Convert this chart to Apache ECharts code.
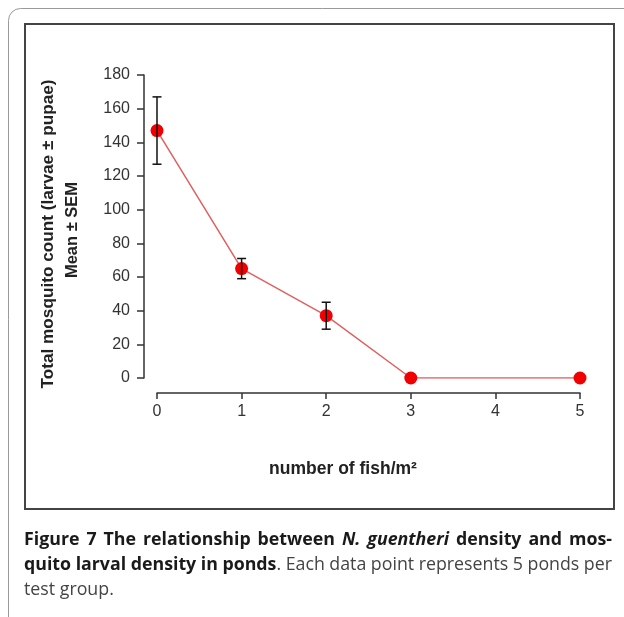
<!DOCTYPE html>
<html>
<head>
<meta charset="utf-8">
<script src="https://cdn.jsdelivr.net/npm/echarts@6/dist/echarts.min.js"></script>
<style>
html,body{margin:0;padding:0;background:#fff;}
#c{width:624px;height:617px;}
</style>
</head>
<body>
<div id="c"></div>
<script>
// Data
var fishDensity = [0, 1, 2, 3, 5];
var meanCount   = [147, 65, 37, 0, 0];
var semCount    = [20, 6, 8, 0, 0];
var yTicks = [0, 20, 40, 60, 80, 100, 120, 140, 160, 180];
var xTicks = [0, 1, 2, 3, 4, 5];

var lineData = fishDensity.map(function (x, i) { return [x, meanCount[i]]; });
var errData = fishDensity.map(function (x, i) {
  return [x, meanCount[i] - semCount[i], meanCount[i] + semCount[i]];
}).filter(function (d) { return d[2] > d[1]; });

// ---- caption (justified like the source figure) ----
var capFS = 17.8;
var capFont = {
  b:  {fontFamily: 'Open Sans', fontWeight: 'bold', fontStyle: 'normal', fontSize: capFS, fill: '#1a1a1a'},
  bi: {fontFamily: 'Open Sans', fontWeight: 'bold', fontStyle: 'italic', fontSize: capFS, fill: '#1a1a1a'},
  r:  {fontFamily: 'Open Sans', fontWeight: 'normal', fontStyle: 'normal', fontSize: capFS, fill: '#444'}
};
var captionLines = [
  {justify: true, words: [
    [['b','Figure']], [['b','7']], [['b','The']], [['b','relationship']], [['b','between']],
    [['bi','N.']], [['bi','guentheri']], [['b','density']], [['b','and']], [['b','mos-']]
  ]},
  {justify: true, words: [
    [['b','quito']], [['b','larval']], [['b','density']], [['b','in']], [['b','ponds'], ['r','.']],
    [['r','Each']], [['r','data']], [['r','point']], [['r','represents']], [['r','5']], [['r','ponds']], [['r','per']]
  ]},
  {justify: false, words: [[['r','test']], [['r','group.']]]}
];
var mctx = document.createElement('canvas').getContext('2d');
function segW(seg) {
  var f = capFont[seg[0]];
  mctx.font = f.fontStyle + ' ' + f.fontWeight + ' ' + f.fontSize + 'px "' + f.fontFamily + '"';
  return mctx.measureText(seg[1]).width;
}
mctx.font = 'normal normal ' + capFS + 'px "Open Sans"';
var spaceW = mctx.measureText(' ').width;
var capLeft = 24, capRight = 612, capY0 = 540, capLH = 25;
var captionGraphics = [];
captionLines.forEach(function (line, li) {
  var widths = line.words.map(function (w) {
    return w.reduce(function (s, seg) { return s + segW(seg); }, 0);
  });
  var total = widths.reduce(function (a, b) { return a + b; }, 0);
  var gap = line.justify ? (capRight - capLeft - total) / (line.words.length - 1) : spaceW;
  var x = capLeft;
  line.words.forEach(function (w, wi) {
    var txt = w.map(function (seg) { return '{' + seg[0] + '|' + seg[1] + '}'; }).join('');
    captionGraphics.push({
      type: 'text', x: x, y: capY0 + li * capLH, silent: true,
      style: {text: txt, verticalAlign: 'middle', align: 'left', rich: capFont}
    });
    x += widths[wi] + gap;
  });
});

var chart = echarts.init(document.getElementById('c'), null, {renderer: 'canvas'});

var capHalf = 4.5;
var axisFont = 'Liberation Sans, Arial, sans-serif';
var option = {
  animation: false,
  backgroundColor: '#fff',
  grid: {left: 157, right: 44, top: 75, bottom: 239, containLabel: false},
  xAxis: {
    type: 'value', min: 0, max: 5, interval: 1,
    offset: 15,
    axisLine: {show: true, onZero: false, lineStyle: {color: '#333', width: 1.5}},
    axisTick: {show: true, length: 6, lineStyle: {color: '#333', width: 1.5}},
    axisLabel: {margin: 11, fontFamily: axisFont, fontSize: 16, color: '#333'},
    splitLine: {show: false}
  },
  yAxis: {
    type: 'value', min: 0, max: 180, interval: 20,
    offset: 13,
    axisLine: {show: true, onZero: false, lineStyle: {color: '#333', width: 1.5}},
    axisTick: {show: true, length: 7, lineStyle: {color: '#333', width: 1.5}},
    axisLabel: {margin: 14, fontFamily: axisFont, fontSize: 16, color: '#333'},
    splitLine: {show: false}
  },
  series: [
    {
      type: 'line',
      data: lineData,
      symbol: 'circle',
      symbolSize: 13,
      lineStyle: {color: '#e06060', width: 1.5},
      itemStyle: {color: '#f00000', borderWidth: 0},
      z: 3
    },
    {
      type: 'custom',
      data: errData,
      z: 4,
      renderItem: function (params, api) {
        var x = api.value(0);
        var lo = api.coord([x, api.value(1)]);
        var hi = api.coord([x, api.value(2)]);
        var st = {stroke: '#111', lineWidth: 1.5};
        return {
          type: 'group',
          children: [
            {type: 'line', shape: {x1: lo[0], y1: lo[1], x2: hi[0], y2: hi[1]}, style: st},
            {type: 'line', shape: {x1: lo[0] - capHalf, y1: lo[1], x2: lo[0] + capHalf, y2: lo[1]}, style: st},
            {type: 'line', shape: {x1: hi[0] - capHalf, y1: hi[1], x2: hi[0] + capHalf, y2: hi[1]}, style: st}
          ]
        };
      }
    }
  ],
  graphic: [
    {type: 'rect', shape: {x: 8.5, y: 8.5, width: 700, height: 700, r: 12},
     style: {fill: 'none', stroke: '#9a9a9a', lineWidth: 1}, z: -10, silent: true},
    {type: 'rect', shape: {x: 25, y: 24, width: 589, height: 485},
     style: {fill: 'none', stroke: '#444', lineWidth: 2}, z: -9, silent: true},
    {type: 'text', x: 48, y: 234, rotation: Math.PI / 2,
     style: {text: 'Total mosquito count (larvae \u00b1 pupae)', fontFamily: axisFont,
             fontWeight: 'bold', fontSize: 17.2, fill: '#222', align: 'center', verticalAlign: 'middle'}},
    {type: 'text', x: 72, y: 230, rotation: Math.PI / 2,
     style: {text: 'Mean \u00b1 SEM', fontFamily: axisFont,
             fontWeight: 'bold', fontSize: 16.5, fill: '#222', align: 'center', verticalAlign: 'middle'}},
    {type: 'text', x: 343, y: 469,
     style: {text: 'number of fish/m\u00b2', fontFamily: axisFont,
             fontWeight: 'bold', fontSize: 17.5, fill: '#222', align: 'center', verticalAlign: 'middle'}}
  ].concat(captionGraphics)
};
chart.setOption(option);
</script>
</body>
</html>
